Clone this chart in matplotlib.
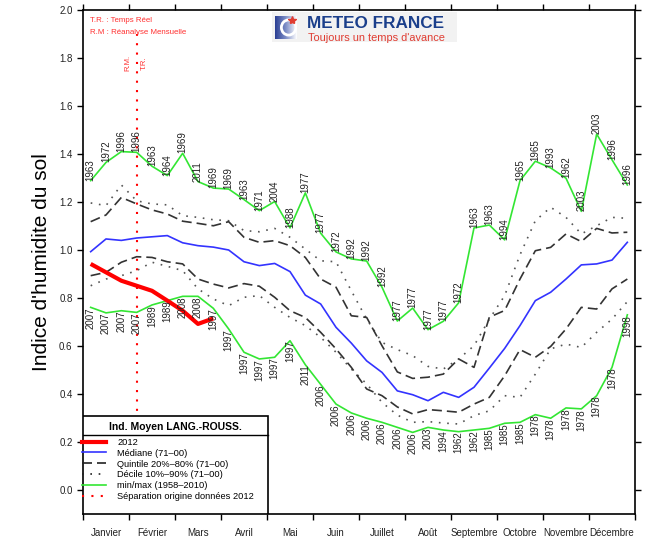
import numpy as np
import matplotlib.pyplot as plt
from matplotlib.lines import Line2D
from matplotlib.patches import Rectangle, Circle
from matplotlib.colors import LinearSegmentedColormap

plt.rcParams['font.family'] = ['Liberation Sans', 'DejaVu Sans']

# mois affichés sous l'axe
mois = ["Janvier", "Février", "Mars", "Avril", "Mai", "Juin", "Juillet", "Août",
        "Septembre", "Octobre", "Novembre", "Décembre"]

# valeurs par décade (36 décades)
val_2012 = [0.942, 0.907, 0.872, 0.851, 0.830, 0.789, 0.747, 0.692, 0.715]

mediane = [0.993, 1.046, 1.040, 1.050, 1.055, 1.060, 1.030, 1.018, 1.012, 1.000,
           0.951, 0.935, 0.944, 0.910, 0.812, 0.775, 0.678, 0.612, 0.538, 0.490,
           0.413, 0.397, 0.372, 0.407, 0.386, 0.428, 0.508, 0.590, 0.685, 0.789,
           0.824, 0.879, 0.938, 0.942, 0.958, 1.032]

quintile_80 = [1.118, 1.146, 1.219, 1.192, 1.167, 1.150, 1.120, 1.111, 1.101, 1.118,
               1.053, 1.032, 1.039, 1.018, 0.969, 0.879, 0.845, 0.726, 0.719, 0.601,
               0.492, 0.465, 0.470, 0.483, 0.546, 0.511, 0.720, 0.748, 0.879, 0.997,
               1.011, 1.067, 1.035, 1.090, 1.071, 1.074]

quintile_20 = [0.893, 0.907, 0.949, 0.972, 0.969, 0.951, 0.942, 0.879, 0.858, 0.842,
               0.860, 0.849, 0.803, 0.747, 0.719, 0.657, 0.588, 0.511, 0.421, 0.393,
               0.346, 0.317, 0.335, 0.330, 0.324, 0.358, 0.386, 0.476, 0.585, 0.553,
               0.598, 0.671, 0.761, 0.754, 0.838, 0.879]

decile_90 = [1.196, 1.185, 1.271, 1.205, 1.192, 1.188, 1.143, 1.136, 1.126, 1.122,
             1.081, 1.076, 1.090, 1.053, 1.004, 0.955, 0.951, 0.830, 0.712, 0.615,
             0.585, 0.560, 0.515, 0.504, 0.546, 0.601, 0.712, 0.810, 0.980, 1.122,
             1.178, 1.136, 1.067, 1.101, 1.136, 1.132]

decile_10 = [0.851, 0.879, 0.893, 0.914, 0.949, 0.932, 0.914, 0.838, 0.796, 0.768,
             0.803, 0.810, 0.761, 0.719, 0.685, 0.636, 0.574, 0.504, 0.442, 0.365,
             0.312, 0.282, 0.285, 0.279, 0.275, 0.310, 0.330, 0.393, 0.386, 0.483,
             0.588, 0.608, 0.594, 0.657, 0.712, 0.785]

val_max = [1.289, 1.365, 1.410, 1.407, 1.349, 1.310, 1.403, 1.285, 1.258, 1.254,
           1.210, 1.164, 1.202, 1.092, 1.238, 1.070, 0.992, 0.963, 0.954, 0.845,
           0.704, 0.758, 0.668, 0.703, 0.780, 1.092, 1.104, 1.042, 1.289, 1.370,
           1.342, 1.299, 1.161, 1.483, 1.376, 1.271]
annee_max = ["1963", "1972", "1996", "1996", "1963", "1964", "1969", "2011", "1969", "1969",
             "1963", "1971", "2004", "1988", "1977", "1977", "1972", "1992", "1992", "1992",
             "1977", "1977", "1977", "1977", "1972", "1963", "1963", "1994", "1965", "1965",
             "1993", "1962", "2003", "2003", "1996", "1996"]

val_min = [0.761, 0.738, 0.747, 0.740, 0.771, 0.789, 0.807, 0.807, 0.757, 0.671,
           0.574, 0.546, 0.553, 0.622, 0.522, 0.440, 0.358, 0.321, 0.299, 0.282,
           0.261, 0.240, 0.261, 0.250, 0.243, 0.250, 0.257, 0.278, 0.282, 0.314,
           0.299, 0.342, 0.338, 0.393, 0.511, 0.730]
annee_min = ["2007", "2007", "2007", "2007", "1989", "1989", "2008", "2008", "1997", "1997",
             "1997", "1997", "1997", "1997", "2011", "2006", "2006", "2006", "2006", "2006",
             "2006", "2006", "2003", "1994", "1962", "1962", "1985", "1985", "1985", "1978",
             "1978", "1978", "1978", "1978", "1978", "1998"]

separation = 3.5  # décade de séparation R.M. / T.R.

vert = "#33e633"
tirets = (0, (6, 3))
points = (0, (1, 4))

x = np.arange(36) + 0.5
x2012 = np.arange(len(val_2012)) + 0.5

fig = plt.figure(figsize=(6.46, 5.39), dpi=100)
ax = fig.add_axes([83 / 646, 25 / 539, 552 / 646, 504 / 539])

ax.plot(x, val_max, color=vert, lw=1.2, zorder=3)
ax.plot(x, val_min, color=vert, lw=1.2, zorder=3)
ax.plot(x, decile_90, color="#555555", lw=1.2, ls=points, zorder=3)
ax.plot(x, decile_10, color="#555555", lw=1.2, ls=points, zorder=3)
ax.plot(x, quintile_80, color="#333333", lw=1.2, ls=tirets, zorder=3)
ax.plot(x, quintile_20, color="#333333", lw=1.2, ls=tirets, zorder=3)
ax.plot(x, mediane, color="#3333ff", lw=1.2, zorder=4)
ax.plot(x2012, val_2012, color="red", lw=3, zorder=5, solid_capstyle="butt")
ax.plot([separation, separation], [-0.1, 1.9], color="red", lw=1.5, ls=(0, (1, 3.5)), zorder=2)

for xi, v, a in zip(x, val_max, annee_max):
    ax.text(xi, v, a, rotation=90, ha="center", va="bottom", fontsize=7, color="#222222", zorder=6)
for xi, v, a in zip(x, val_min, annee_min):
    ax.text(xi, v, a, rotation=90, ha="center", va="top", fontsize=7, color="#222222", zorder=6)

ax.text(separation - 0.6, 1.78, "R.M.", rotation=90, ha="center", va="center", fontsize=5.5, color="#ff3030")
ax.text(separation + 0.5, 1.78, "T.R.", rotation=90, ha="center", va="center", fontsize=5.5, color="#ff3030")
ax.text(0.013, 0.979, "T.R. : Temps Réel", transform=ax.transAxes, fontsize=5.7, color="#ff3030", va="center")
ax.text(0.013, 0.955, "R.M : Réanalyse Mensuelle", transform=ax.transAxes, fontsize=5.7, color="#ff3030", va="center")

# axes
ax.set_xlim(0, 36)
ax.set_ylim(-0.1, 2.0)
ax.set_xticks(np.arange(0, 37, 3))
ax.set_xticklabels([])
ax.set_xticks(np.arange(1.5, 36, 3), minor=True)
ax.set_xticklabels(mois, minor=True)
ax.tick_params(axis="x", which="minor", length=0, pad=10, labelsize=7, labelcolor="#222222")
ax.tick_params(axis="x", which="major", direction="out", length=4, width=1, top=True)
yt = np.round(np.arange(0, 2.01, 0.2), 1)
ax.set_yticks(yt)
ax.set_yticklabels([f"{v:.1f}" for v in yt])
ax.tick_params(axis="y", direction="out", length=4, width=1, right=True, labelsize=7, labelcolor="#222222")
for s in ax.spines.values():
    s.set_linewidth(1.2)
ax.set_ylabel("Indice d'humidite du sol", fontsize=15, labelpad=6)

# légende
bw, bh = 185 / 552, 98 / 504
ax.add_patch(Rectangle((0, 0), bw, bh, transform=ax.transAxes, facecolor="white",
                       edgecolor="black", lw=1.2, zorder=8))
ax.plot([0, bw], [(514 - 435) / 504] * 2, transform=ax.transAxes, color="black", lw=1.0, zorder=9)
ax.text(0.168, (514 - 427) / 504, "Ind. Moyen LANG.-ROUSS.", transform=ax.transAxes,
        ha="center", va="center", fontsize=7.5, fontweight="bold", zorder=9)
poignees = [Line2D([], [], color="red", lw=3),
            Line2D([], [], color="#3333ff", lw=1.2),
            Line2D([], [], color="#222222", lw=1.2, ls=tirets),
            Line2D([], [], color="#222222", lw=1.2, ls=points),
            Line2D([], [], color=vert, lw=1.2),
            Line2D([], [], color="red", lw=1.5, ls=(0, (1, 3.5)))]
etiquettes = ["2012", "Médiane (71–00)", "Quintile 20%–80% (71–00)", "Décile 10%–90% (71–00)",
              "min/max (1958–2010)", "Séparation origine données 2012"]
leg = ax.legend(poignees, etiquettes, loc="upper left", bbox_to_anchor=(-0.005, (514 - 436) / 504),
                frameon=False, fontsize=6.7, handlelength=2.6, handletextpad=1.2,
                labelspacing=0.2, borderpad=0.2, borderaxespad=0)
leg.set_zorder(10)

# logo Météo-France
fig.add_artist(Rectangle((272 / 646, 1 - 42 / 539), 185 / 646, 30 / 539, transform=fig.transFigure,
                         facecolor="#f2f2f2", edgecolor="none", zorder=1))
ax_logo = fig.add_axes([275 / 646, 1 - 39 / 539, 22 / 646, 23 / 539])
ax_logo.set_zorder(2)
grad = np.linspace(0, 1, 64)[None, :].repeat(64, axis=0)
cmap_mf = LinearSegmentedColormap.from_list("mf", ["#2a3f93", "#8090c8", "#ffffff"])
ax_logo.imshow(grad, cmap=cmap_mf, extent=(0, 1, 0, 1), aspect="auto")
ax_logo.add_patch(Circle((0.62, 0.5), 0.33, facecolor="none", edgecolor="white", lw=2))
ax_logo.plot([0.78], [0.82], marker="*", color="#e03c31", ms=6)
ax_logo.set_xlim(0, 1)
ax_logo.set_ylim(0, 1)
ax_logo.axis("off")
fig.text(307 / 646, 1 - 27.8 / 539, "METEO FRANCE", fontsize=12.3, fontweight="bold",
         color="#1b3f8b", va="baseline", zorder=6)
fig.text(308 / 646, 1 - 41.3 / 539, "Toujours un temps d'avance", fontsize=7.9,
         color="#e03c31", va="baseline", zorder=6)

fig.savefig("out.png", dpi=100)
